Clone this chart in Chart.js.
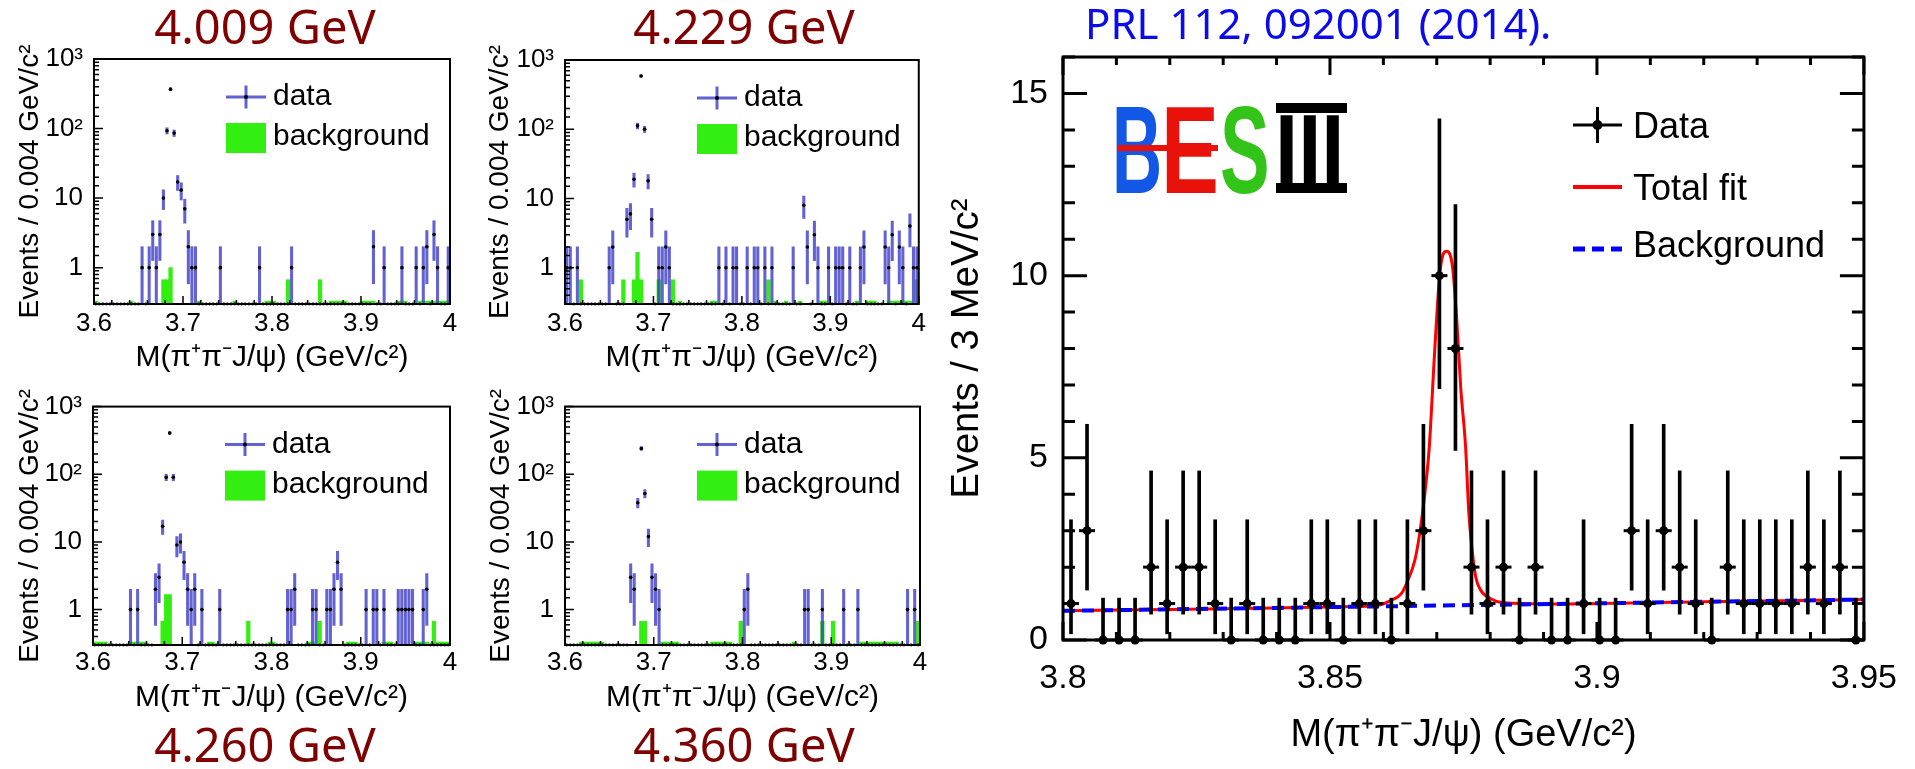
<!DOCTYPE html>
<html>
<head>
<meta charset="utf-8">
<title>BESIII pi+pi- J/psi</title>
<script src="https://cdn.jsdelivr.net/npm/chart.js@4.4.1/dist/chart.umd.min.js"></script>
<style>
  html, body { margin: 0; padding: 0; background: #fff; }
  #page { position: relative; width: 1915px; height: 769px; overflow: hidden; }
  canvas { position: absolute; }
  .energy { position: absolute; font-family: 'Noto Sans', sans-serif; font-size: 47px; line-height: 47px;
            color: #7f0000; transform: translateX(-50%); white-space: nowrap; }
  #ref { position: absolute; left: 1085px; top: 2px; font-family: 'Noto Sans', sans-serif; font-size: 42px;
         line-height: 41px; color: #0a0aeb; white-space: nowrap; }
  .logo { position: absolute; font-family: 'Liberation Sans', Arial, sans-serif; font-weight: bold;
          font-size: 124px; line-height: 124px; transform-origin: 0 0; white-space: nowrap; }
  #logoBar { position: absolute; left: 1118px; top: 145px; width: 100px; height: 6px; background: #e8120a; }
  #logoIII { position: absolute; left: 1276px; top: 103px; width: 71px; height: 70px;
             border-top: 10px solid #000; border-bottom: 10px solid #000; }
</style>
</head>
<body>
<div id="page">
  <canvas id="p0" width="465" height="380" style="left:0px;top:0px"></canvas>
  <canvas id="p1" width="465" height="380" style="left:465px;top:0px"></canvas>
  <canvas id="p2" width="465" height="340" style="left:0px;top:380px"></canvas>
  <canvas id="p3" width="465" height="340" style="left:465px;top:380px"></canvas>
  <canvas id="big" width="975" height="769" style="left:940px;top:0px"></canvas>

  <div class="energy" id="e0" style="left:265px;top:3px"></div>
  <div class="energy" id="e1" style="left:744px;top:3px"></div>
  <div class="energy" id="e2" style="left:265px;top:721px"></div>
  <div class="energy" id="e3" style="left:744px;top:721px"></div>
  <div id="ref">PRL 112, 092001 (2014).</div>

  <div class="logo" style="left:1112px;top:88px;color:#1257e6;transform:scaleX(0.56)">B</div>
  <div class="logo" style="left:1161px;top:88px;color:#e8120a;transform:scaleX(0.7)">E</div>
  <div id="logoBar"></div>
  <div class="logo" style="left:1220px;top:88px;color:#33c41a;transform:scaleX(0.6)">S</div>
  <div id="logoIII"></div>
  <div class="logo" style="left:1275px;top:100px;font-size:98px;line-height:98px;color:#000;transform:scaleX(0.85)">III</div>
</div>
<script>
const FONT = "'Liberation Sans', Arial, Helvetica, sans-serif";
Chart.defaults.font.family = FONT;
Chart.defaults.color = '#000';

const BLUE = 'rgba(64,64,200,0.82)';
const GREEN = '#33ee11';

// ---- small panels: M(pi+pi-J/psi) in 0.004 GeV bins from 3.6 to 4.0 ----
const panelEnergies = ['4.009 GeV', '4.229 GeV', '4.260 GeV', '4.360 GeV'];
const smallMassMin = 3.6;
const smallMassMax = 4.0;
const smallBinWidth = 0.004;
const smallBinCount = 100;
const smallYMin = 0.3;
const smallYMax = 1000;
const smallYLabels = ['1', '10', '10²', '10³'];
const smallLegendLabels = ['data', 'background'];
const smallXTitle = 'M(π⁺π⁻J/ψ) (GeV/c²)';
const smallYTitle = 'Events / 0.004 GeV/c²';

// bins with events (bin index) and their counts; all other bins are empty
const binsE4009 = [13,15,16,17,18,19,20,21,22,23,24,25,26,27,28,35,46,55,78,81,86,90,92,93,95,96,99];
const countsE4009 = [1,1,3,1,3,10,93,368,86,17,13,7,2,1,1,1,1,1,2,1,1,1,1,2,3,1,1];
const bgBinsE4009 = [0,10,19,20,21,29,39,48,49,50,54,63,66,67,68,69,70,75,76,77,78,85,86,87,91,92,93,94,95,96,97,98,99];
const bgValsE4009 = [0.33,0.33,0.67,0.67,1.0,0.33,0.33,0.33,0.33,0.33,0.67,0.67,0.33,0.33,0.33,0.33,0.33,
                     0.33,0.33,0.33,0.33,0.33,0.33,0.33,0.33,0.33,0.33,0.33,0.33,0.33,0.33,0.33,0.33];

const binsE4229 = [0,1,3,12,13,17,18,19,20,21,22,23,24,26,27,28,29,43,45,47,48,51,53,54,56,58,64,
                   67,68,70,71,74,76,77,78,80,83,84,90,91,92,94,95,97,98,99];
const countsE4229 = [1,1,1,1,2,5,6,19,112,587,100,18,5,1,1,2,1,1,1,1,1,1,1,1,1,1,1,
                     8,2,3,1,1,1,1,1,1,1,2,2,1,3,2,1,4,1,1];
const bgBinsE4229 = [4,16,19,20,21,26,30,32,41,42,57,59,62,66,72,73,82,85,86,87,91,92,93,94,95,96,97,99];
const bgValsE4229 = [0.67,0.67,0.67,1.67,0.67,0.67,0.67,0.33,0.33,0.33,0.67,0.33,0.33,0.33,0.33,0.33,0.33,
                     0.33,0.33,0.33,0.33,0.33,0.33,0.33,0.33,0.33,0.33,0.67];

const binsE4260 = [10,12,17,18,19,20,21,22,23,24,25,26,27,28,30,35,54,55,56,61,62,65,66,67,68,69,
                   76,78,79,81,85,86,87,88,89,92,93];
const countsE4260 = [1,1,2,3,17,90,407,90,9,10,5,2,1,2,1,1,1,1,2,1,1,1,1,2,5,2,1,1,1,1,1,1,1,1,1,1,2];
const bgBinsE4260 = [0,1,2,3,10,11,12,13,14,19,20,21,32,33,43,49,50,60,61,63,71,72,73,81,82,83,
                     90,91,92,93,95,96,97,98,99];
const bgValsE4260 = [0.33,0.33,0.33,0.33,0.33,0.33,0.33,0.33,0.33,0.67,1.67,1.67,0.33,0.33,0.67,0.33,0.33,
                     0.33,0.33,0.67,0.33,0.33,0.33,0.33,0.33,0.33,0.33,0.33,0.33,0.33,0.67,0.33,0.33,0.33,0.33];

const binsE4360 = [18,19,20,21,22,23,24,25,26,50,51,67,68,72,78,82,96,98];
const countsE4360 = [3,2,38,240,52,12,3,2,1,1,2,1,1,1,1,1,1,1];
const bgBinsE4360 = [4,5,6,7,8,9,10,21,22,27,28,29,30,31,41,42,43,44,45,46,49,64,72,75,
                     83,84,85,86,87,88,89,90,91,92,93,99];
const bgValsE4360 = [0.33,0.33,0.33,0.33,0.33,0.33,0.33,0.67,0.67,0.33,0.33,0.33,0.33,0.33,
                     0.33,0.33,0.33,0.33,0.33,0.33,0.67,0.33,0.67,0.67,
                     0.33,0.33,0.33,0.33,0.33,0.33,0.33,0.33,0.33,0.33,0.33,0.67];

// ---- big panel: 3 MeV bins from 3.80 to 3.95 ----
const bigMassMin = 3.80;
const bigMassMax = 3.95;
const bigBinWidth = 0.003;
const bigCounts = [1,3,0,0,0,2,1,2,2,1, 0,1,0,0,0,1,1,0,1,1,
                   0,1,3,10,8,2,1,2,0,2, 0,0,1,0,0,3,1,3,2,1,
                   0,2,1,1,1,1,2,1,2,0];
// Poisson error bars as drawn, by count
const poissonN = [0, 1, 2, 3, 8, 10];
const poissonLow = [0, 0.17, 0.71, 1.37, 5.2, 6.9];
const poissonHigh = [1.15, 3.3, 4.64, 5.92, 11.95, 14.3];
// fitted curves
const fitMass = [3.800,3.820,3.840,3.855,3.859,3.8616,3.8634,3.8646,3.8659,3.8668,3.8677,3.8686,3.8696,3.8706,
                 3.8718,3.8729,3.8737,3.8745,3.8754,3.8760,3.8766,3.8773,3.8782,3.8800,3.8825,3.890,3.920,3.950];
const fitValue = [0.80,0.84,0.88,0.92,0.95,1.10,1.28,1.64,2.19,2.92,3.93,5.3,7.9,10.1,
                  10.67,10.3,8.9,6.9,5.3,3.5,2.5,1.73,1.37,1.14,1.02,0.99,1.05,1.11];
const bgMass = [3.80, 3.95];
const bgValue = [0.80, 1.11];
const bigLegendLabels = ['Data', 'Total fit', 'Background'];
const bigXTitle = 'M(π⁺π⁻J/ψ) (GeV/c²)';
const bigYTitle = 'Events / 3 MeV/c²';

// ROOT-like frame with inward ticks
const rootFrame = {
  id: 'rootFrame',
  afterDatasetsDraw(chart, args, o) {
    const { ctx, chartArea: a } = chart;
    const xs = chart.scales.x, ys = chart.scales.y;
    ctx.save();
    ctx.strokeStyle = '#000';
    ctx.lineWidth = o.tickWidth;
    ctx.beginPath();
    xs.ticks.forEach(t => {
      const px = xs.getPixelForValue(t.value);
      const len = t.label ? o.xMajor : o.xMinor;
      ctx.moveTo(px, a.bottom); ctx.lineTo(px, a.bottom - len);
      if (o.mirror) { ctx.moveTo(px, a.top); ctx.lineTo(px, a.top + len); }
    });
    ys.ticks.forEach(t => {
      const py = ys.getPixelForValue(t.value);
      const len = t.label ? o.yMajor : o.yMinor;
      ctx.moveTo(a.left, py); ctx.lineTo(a.left + len, py);
      if (o.mirror) { ctx.moveTo(a.right, py); ctx.lineTo(a.right - len, py); }
    });
    ctx.stroke();
    ctx.lineWidth = o.frameWidth;
    ctx.strokeRect(a.left, a.top, a.right - a.left, a.bottom - a.top);
    ctx.restore();
  }
};

// legend drawn inside the frame
const boxLegend = {
  id: 'boxLegend',
  afterDraw(chart, args, o) {
    const { ctx, chartArea: a } = chart;
    const x0 = a.left + o.left, x1 = a.left + o.right, xm = (x0 + x1) / 2;
    ctx.save();
    ctx.font = o.font;
    ctx.textBaseline = 'middle';
    o.items.forEach(it => {
      const y = a.top + it.dy;
      ctx.strokeStyle = it.color;
      ctx.fillStyle = it.color;
      ctx.lineWidth = it.width || 3;
      ctx.setLineDash(it.dash || []);
      if (it.kind === 'cross') {
        ctx.beginPath();
        ctx.moveTo(x0, y); ctx.lineTo(x1, y);
        ctx.moveTo(xm, y - it.half); ctx.lineTo(xm, y + it.half);
        ctx.stroke();
        ctx.fillStyle = '#000';
        ctx.beginPath(); ctx.arc(xm, y, it.dot, 0, Math.PI * 2); ctx.fill();
      } else if (it.kind === 'box') {
        ctx.fillRect(x0, y - it.half, x1 - x0, it.half * 2);
      } else {
        ctx.beginPath(); ctx.moveTo(x0, y); ctx.lineTo(x1, y); ctx.stroke();
      }
      ctx.setLineDash([]);
      ctx.fillStyle = '#000';
      ctx.fillText(it.text, a.left + o.textX, y + (it.textDy || 0));
    });
    ctx.restore();
  }
};

const smallCenter = b => smallMassMin + smallBinWidth * (b + 0.5);
const allSmallBins = Array.from({ length: smallBinCount }, (_, i) => i);

function smallPanel(id, bins, counts, bgBins, bgVals, box) {
  const pts = bins.map((b, k) => ({ x: smallCenter(b), y: counts[k] }));
  const errs = bins.map((b, k) => {
    const s = Math.sqrt(counts[k]);
    return { x: smallCenter(b), y: [Math.max(smallYMin, counts[k] - s), counts[k] + s] };
  });
  // empty bins are drawn on the lower edge, as ROOT does
  const empty = allSmallBins.filter(b => !bins.includes(b)).map(b => ({ x: smallCenter(b), y: smallYMin }));
  const bg = bgBins.map((b, k) => ({ x: smallCenter(b), y: [smallYMin, bgVals[k]] }));

  return new Chart(document.getElementById(id), {
    type: 'scatter',
    data: {
      datasets: [
        { data: pts, pointRadius: 1.8, backgroundColor: '#000', borderWidth: 0, clip: false, order: 0 },
        { data: empty, pointRadius: 1.4, backgroundColor: '#000', borderWidth: 0, clip: false, order: 1 },
        { type: 'bar', data: errs, backgroundColor: BLUE, barThickness: 2.4, grouped: false, order: 2 },
        { type: 'bar', data: bg, backgroundColor: GREEN, barThickness: 3.6, grouped: false, order: 3 }
      ]
    },
    options: {
      responsive: false,
      animation: false,
      events: [],
      layout: { padding: { top: box.top, right: box.right, left: 0, bottom: 0 } },
      plugins: {
        legend: { display: false },
        tooltip: { enabled: false },
        rootFrame: { frameWidth: 2, tickWidth: 1.5, xMajor: 8, xMinor: 4, yMajor: 9, yMinor: 5, mirror: false },
        boxLegend: {
          font: '30px ' + FONT, left: 132, right: 172, textX: 179,
          items: [
            { kind: 'cross', dy: 38, color: BLUE, width: 3, half: 11.5, dot: 2, text: smallLegendLabels[0] },
            { kind: 'box', dy: 79, color: GREEN, half: 15, text: smallLegendLabels[1], textDy: -1 }
          ]
        }
      },
      scales: {
        x: {
          type: 'linear', min: smallMassMin, max: smallMassMax, offset: false,
          grid: { display: false, drawTicks: false }, border: { display: false },
          ticks: {
            stepSize: 0.02, autoSkip: false, maxRotation: 0, padding: box.xTickPad, font: { size: 26 },
            callback: v => Math.abs(v * 10 - Math.round(v * 10)) < 1e-6 ? String(Number(v.toFixed(1))) : ''
          },
          title: { display: true, text: smallXTitle, font: { size: 30 }, padding: { top: 0, bottom: 4 } },
          afterFit: s => { s.height = box.xHeight; }
        },
        y: {
          type: 'logarithmic', min: smallYMin, max: smallYMax,
          grid: { display: false, drawTicks: false }, border: { display: false },
          ticks: {
            autoSkip: false, padding: 11, font: { size: 26 },
            callback: v => {
              const e = Math.log10(v);
              return Math.abs(e - Math.round(e)) < 1e-6 ? (smallYLabels[Math.round(e)] || '') : '';
            }
          },
          title: { display: true, text: smallYTitle, font: { size: 28 }, padding: { top: box.yTitlePad, bottom: 0 } },
          afterFit: s => { s.width = box.yWidth; }
        }
      }
    },
    plugins: [rootFrame, boxLegend]
  });
}

smallPanel('p0', binsE4009, countsE4009, bgBinsE4009, bgValsE4009,
  { top: 59, right: 15, yWidth: 94, xHeight: 76, xTickPad: 4, yTitlePad: 13 });
smallPanel('p1', binsE4229, countsE4229, bgBinsE4229, bgValsE4229,
  { top: 60, right: 10, yWidth: 100, xHeight: 76, xTickPad: 4, yTitlePad: 18 });
smallPanel('p2', binsE4260, countsE4260, bgBinsE4260, bgValsE4260,
  { top: 19, right: 15, yWidth: 93, xHeight: 75, xTickPad: 2, yTitlePad: 13 });
smallPanel('p3', binsE4360, countsE4360, bgBinsE4360, bgValsE4360,
  { top: 19, right: 10, yWidth: 100, xHeight: 75, xTickPad: 2, yTitlePad: 19 });

panelEnergies.forEach((t, i) => { document.getElementById('e' + i).textContent = t; });

// big panel
const bigCenters = bigCounts.map((_, i) => bigMassMin + bigBinWidth * (i + 0.5));
const bigPts = bigCounts.map((n, i) => ({ x: bigCenters[i], y: n }));
const bigErrs = bigCounts.map((n, i) => {
  const k = poissonN.indexOf(n);
  return { x: bigCenters[i], y: [poissonLow[k], poissonHigh[k]] };
});

new Chart(document.getElementById('big'), {
  type: 'scatter',
  data: {
    datasets: [
      { data: bigPts, pointStyle: 'circle', pointRadius: 4.5, backgroundColor: '#000', borderWidth: 0, clip: false, order: 0 },
      { data: bigPts, pointStyle: 'line', pointRadius: 8, borderColor: '#000', borderWidth: 3, clip: false, order: 1 },
      { type: 'bar', data: bigErrs, backgroundColor: '#000', barThickness: 3, grouped: false, order: 2 },
      { type: 'line', data: bgMass.map((x, i) => ({ x, y: bgValue[i] })), borderColor: '#0000ff', borderWidth: 4,
        borderDash: [12, 7], pointRadius: 0, order: 3 },
      { type: 'line', data: fitMass.map((x, i) => ({ x, y: fitValue[i] })), borderColor: '#ff0000', borderWidth: 3,
        pointRadius: 0, cubicInterpolationMode: 'monotone', order: 4 }
    ]
  },
  options: {
    responsive: false,
    animation: false,
    events: [],
    layout: { padding: { top: 57, right: 39, left: 0, bottom: 0 } },
    plugins: {
      legend: { display: false },
      tooltip: { enabled: false },
      rootFrame: { frameWidth: 3, tickWidth: 3, xMajor: 18, xMinor: 8, yMajor: 24, yMinor: 12, mirror: true },
      boxLegend: {
        font: '36px ' + FONT, left: 510, right: 559, textX: 570,
        items: [
          { kind: 'cross', dy: 68, color: '#000', width: 3, half: 18, dot: 5, text: bigLegendLabels[0], textDy: 3 },
          { kind: 'line', dy: 130, color: '#ff0000', width: 4, text: bigLegendLabels[1], textDy: 3 },
          { kind: 'line', dy: 192, color: '#0000ff', width: 5, dash: [12, 7], text: bigLegendLabels[2], textDy: -2 }
        ]
      }
    },
    scales: {
      x: {
        type: 'linear', min: bigMassMin, max: bigMassMax, offset: false,
        grid: { display: false, drawTicks: false }, border: { display: false },
        ticks: {
          stepSize: 0.01, autoSkip: false, maxRotation: 0, padding: 18, font: { size: 34 },
          callback: v => Math.abs(v * 20 - Math.round(v * 20)) < 1e-6 ? String(Number(v.toFixed(2))) : ''
        },
        title: { display: true, text: bigXTitle, font: { size: 38 }, padding: { top: 0, bottom: 11 } },
        afterFit: s => { s.height = 129; }
      },
      y: {
        type: 'linear', min: 0, max: 16,
        grid: { display: false, drawTicks: false }, border: { display: false },
        ticks: {
          stepSize: 1, autoSkip: false, padding: 15, font: { size: 34 },
          callback: v => v % 5 === 0 ? String(v) : ''
        },
        title: { display: true, text: bigYTitle, font: { size: 38 }, padding: { top: 5, bottom: 0 } },
        afterFit: s => { s.width = 123; }
      }
    }
  },
  plugins: [rootFrame, boxLegend]
});
</script>
</body>
</html>
